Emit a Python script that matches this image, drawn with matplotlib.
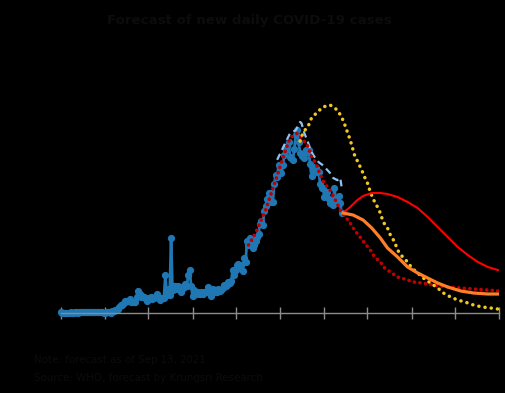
import matplotlib
matplotlib.use("Agg")
from matplotlib import pyplot as plt
import matplotlib.dates as mdates
import pandas as pd

start = pd.Timestamp("2021-03-01")

# daily reported new cases, 1 Mar - 13 Sep 2021
cases_mar = [91, 43, 54, 52, 61, 36, 61, 82, 56, 38, 73, 75, 48, 80, 133, 100,
             131, 90, 91, 97, 85, 79, 111, 91, 97, 84, 104, 74, 88, 67, 39]
cases_apr = [26, 84, 89, 84, 51, 194, 250, 334, 405, 559, 789, 985, 965, 1335, 1543,
             1582, 1547, 1767, 1390, 1443, 1458, 1470, 2070, 2839, 2438, 2048, 2179,
             2012, 1871, 1583]
cases_may = [1891, 1940, 2041, 1763, 1911, 2044, 2419, 2101, 1630, 1919, 1983, 1946,
             4887, 2256, 3095, 2302, 9635, 2992, 3481, 3394, 3052, 3466, 3382, 2713,
             3226, 3323, 3759, 3481, 4801, 5485, 3440]
cases_jun = [2230, 2886, 2631, 2440, 2671, 2419, 2662, 2419, 2680, 2644, 2667, 3277,
             2804, 2112, 3058, 2905, 2729, 2667, 3059, 2775, 3001, 3174, 3644, 3406,
             3644, 3995, 3813, 4108, 5533, 4829]
cases_jul = [5533, 6087, 6230, 5916, 6166, 5420, 7058, 6519, 9276, 8656, 9539, 8685,
             8326, 8685, 9186, 9692, 10082, 11397, 11784, 11305, 13002, 13655, 14575,
             15335, 15376, 14260, 14150, 16533, 17669, 17345, 18912]
cases_aug = [18027, 17970, 18901, 20200, 20920, 21379, 21838, 19983, 19843, 19603,
             21038, 22782, 23418, 21882, 20515, 20128, 20200, 19851, 20902, 20571,
             20807, 19014, 17491, 18702, 18291, 18501, 17984, 18014, 16536, 15972, 15942]
cases_sep = [14802, 14956, 15452, 14555, 14029, 13988, 13821, 16030, 14176, 14403,
             15022, 14029, 12800]
cases = cases_mar + cases_apr + cases_may + cases_jun + cases_jul + cases_aug + cases_sep

# cases incl. ATK positives (days since 1 Mar)
atk_day = [151, 156, 160, 164, 167, 168, 170, 172, 175, 177, 180, 183, 186, 188, 190,
           193, 195, 196]
atk_val = [19600, 21500, 23000, 23400, 24450, 24300, 23000, 22100, 20600, 20000,
           19300, 18900, 18300, 17900, 17300, 17000, 17300, 16100]

# model fit (dark red dots)
fit_day = [131, 136, 139, 143, 146, 150, 153, 157, 160, 165, 168, 172, 175, 178, 181,
           184, 188, 191, 195, 202, 205, 209, 212, 216, 219, 223, 226, 231, 235, 240,
           246, 252, 260, 270, 279, 288, 298, 305]
fit_val = [8700, 10240, 11520, 13200, 14850, 17000, 18700, 20900, 22400, 23000, 22400,
           21500, 20000, 19200, 17700, 16600, 15700, 14700, 13200, 11500, 10600, 9700,
           8960, 8060, 7170, 6530, 5760, 5120, 4600, 4350, 3970, 3840, 3580, 3330, 3200,
           3070, 2940, 2820]

# ATK-based scenario (yellow dots)
atk_fc_day = [167, 169, 173, 175, 179, 183, 188, 193, 196, 198, 200, 202, 205, 210, 212,
              214, 216, 218, 221, 223, 225, 228, 230, 233, 235, 238, 242, 245, 249, 253,
              258, 263, 267, 272, 277, 282, 288, 294, 300, 305]
atk_fc_val = [22000, 23040, 24060, 24960, 25700, 26370, 26620, 25980, 25090, 24190,
              23170, 22140, 20220, 18300, 17410, 16640, 15490, 14590, 13570, 12800,
              11650, 10880, 9980, 9090, 8060, 7300, 6530, 5760, 5120, 4480, 3840, 3200,
              2560, 2050, 1660, 1410, 1020, 770, 640, 510]

# worse scenario (red) and base scenario (orange)
bad_day = [197, 202, 207, 211, 217, 223, 228, 235, 242, 249, 256, 263, 270, 277, 284,
           291, 298, 305]
bad_val = [12800, 13570, 14460, 14980, 15360, 15360, 15230, 14850, 14210, 13440, 12290,
           11010, 9730, 8450, 7420, 6530, 5890, 5500]
base_day = [197, 204, 211, 217, 223, 228, 235, 242, 249, 256, 263, 270, 279, 288, 298, 305]
base_val = [12800, 12540, 11900, 10880, 9600, 8320, 7170, 5890, 5120, 4480, 3840, 3330,
            2820, 2560, 2430, 2430]


def to_dates(days):
    return start + pd.to_timedelta(days, unit="D")


txt = "#0c0c0c"
fig = plt.figure(figsize=(5.06, 3.93), dpi=100, facecolor="black")
ax = fig.add_axes([60.7 / 506, 80 / 393, 438.6 / 506, 234.4 / 393])
ax.set_facecolor("black")

dates = pd.date_range(start, periods=len(cases), freq="D")
ax.plot(dates, cases, color="#1f77b4", lw=2, marker="o", ms=4.2, mec="#1f77b4",
        clip_on=False, zorder=2)
ax.plot(to_dates(atk_day), atk_val, color="#8dc3ee", lw=1.6, ls=(0, (3, 2)), zorder=3)
ax.plot(to_dates(fit_day), fit_val, color="#c00000", lw=2.6, ls=(0, (0.05, 1.5)),
        dash_capstyle="round", zorder=4)
ax.plot(to_dates(atk_fc_day), atk_fc_val, color="#f2c81e", lw=2.5, ls=(0, (0.05, 1.75)),
        dash_capstyle="round", zorder=4, clip_on=False)
ax.plot(to_dates(bad_day), bad_val, color="#ff0000", lw=1.5, zorder=5)
ax.plot(to_dates(base_day), base_val, color="#ff7f27", lw=2.3, zorder=6)

ax.set_xlim(start, pd.Timestamp("2022-01-01"))
ax.set_ylim(0, 30000)
for s in ["top", "right", "left"]:
    ax.spines[s].set_visible(False)
ax.spines["bottom"].set_color("#8c8c8c")
ax.spines["bottom"].set_linewidth(1)
ax.xaxis.set_major_locator(mdates.MonthLocator())
ax.xaxis.set_major_formatter(mdates.DateFormatter("%b"))
# month labels are black on black in the original, so they do not show
ax.tick_params(axis="x", direction="inout", length=9, width=1, color="#8c8c8c",
               labelcolor="black", labelsize=6.5, pad=2)
ax.set_yticks([])

fig.text(0.492, 0.949, "Forecast of new daily COVID-19 cases", ha="center", va="center",
         color=txt, fontsize=9.6, fontweight="bold")
fig.text(34 / 506, 1 - 360 / 393, "Note: forecast as of Sep 13, 2021", ha="left",
         va="center", color=txt, fontsize=7.4)
fig.text(34 / 506, 1 - 378 / 393, "Source: WHO, forecast by Krungsri Research", ha="left",
         va="center", color=txt, fontsize=7.4)

fig.savefig("out.png", dpi=100, facecolor="black")
